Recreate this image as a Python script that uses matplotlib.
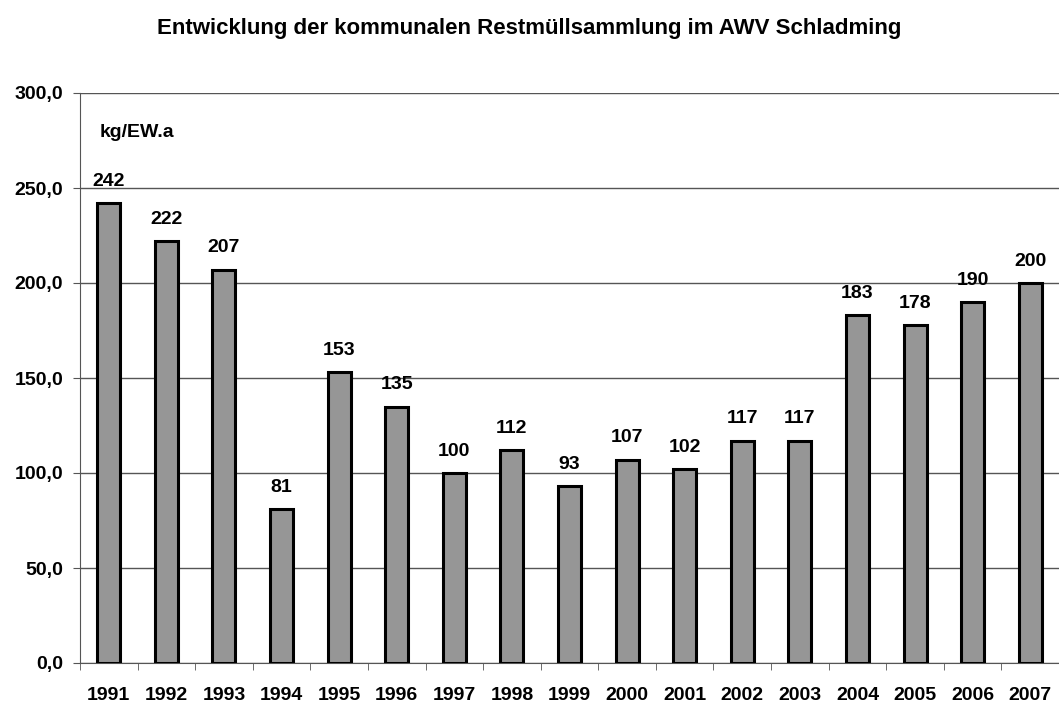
import matplotlib.pyplot as plt
import numpy as np

plt.rcParams['font.family'] = ['Liberation Sans', 'DejaVu Sans']

years = ["1991", "1992", "1993", "1994", "1995", "1996", "1997", "1998", "1999",
         "2000", "2001", "2002", "2003", "2004", "2005", "2006", "2007"]
values = [242, 222, 207, 81, 153, 135, 100, 112, 93, 107, 102, 117, 117, 183, 178, 190, 200]
title = "Entwicklung der kommunalen Restmüllsammlung im AWV Schladming"
unit = "kg/EW.a"

fig = plt.figure(figsize=(10.59, 7.04), dpi=100)
ax = fig.add_axes([80/1059, 41/704, 1 - 80/1059, 570/704])

x = np.arange(len(years))
ax.bar(x, values, width=0.4, color="#969696", edgecolor="black", linewidth=2.2, zorder=3)
for xi, v in zip(x, values):
    ax.text(xi, v + 7, str(v), ha="center", va="bottom", fontsize=14, fontweight="bold")

ax.set_ylim(0, 300)
ax.set_xlim(-0.5, 16.43)
ax.set_yticks(np.arange(0, 301, 50))
ax.set_yticklabels([f"{t:.1f}".replace(".", ",") for t in np.arange(0, 301, 50)],
                   fontsize=14, fontweight="bold")
ax.yaxis.grid(True, color="#555555", linewidth=1, zorder=0)
ax.set_xticks(x)
ax.set_xticklabels(years, fontsize=14, fontweight="bold")
ax.set_xticks(np.arange(-0.5, 17, 1), minor=True)
ax.tick_params(axis="x", which="major", length=0, pad=17)
ax.tick_params(axis="x", which="minor", length=5, color="#555555")
ax.tick_params(axis="y", length=5, color="#555555", pad=7)

for s in ["top", "right"]:
    ax.spines[s].set_visible(False)
ax.spines["left"].set_color("#555555")
ax.spines["bottom"].set_color("#555555")

ax.text(0.02, 0.93, unit, transform=ax.transAxes, fontsize=14, fontweight="bold",
        ha="left", va="center")
fig.text(0.5, 0.96, title, ha="center", va="center", fontsize=16, fontweight="bold")

fig.savefig("out.png", dpi=100)
